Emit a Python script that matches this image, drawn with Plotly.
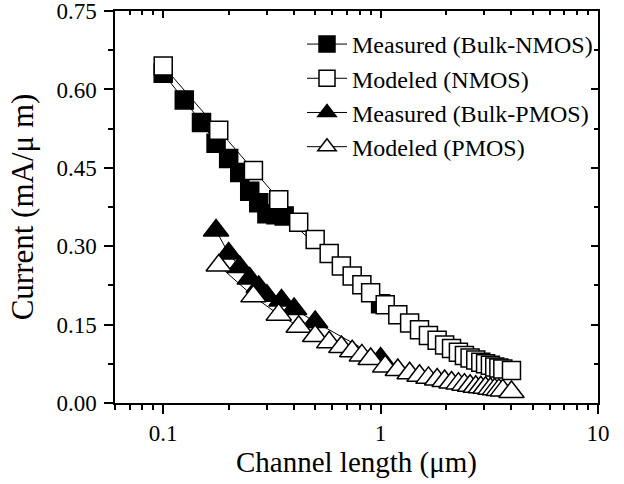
import math
import plotly.graph_objects as go

# ---- data ----
meas_nmos_x = [0.1, 0.125, 0.15, 0.175, 0.2, 0.225, 0.25, 0.275, 0.3, 0.33, 0.36, 1.0]
meas_nmos_y = [0.631, 0.580, 0.537, 0.497, 0.468, 0.441, 0.405, 0.383, 0.362, 0.360, 0.358, 0.190]

model_nmos_x = [0.1, 0.18, 0.26, 0.34, 0.42, 0.5, 0.58, 0.66, 0.74, 0.82, 0.9,
                1.05, 1.2, 1.36, 1.51, 1.66, 1.82, 1.97, 2.12, 2.28, 2.43, 2.58,
                2.74, 2.89, 3.04, 3.2, 3.35, 3.5, 3.65, 4.0]
model_nmos_y = [0.645, 0.522, 0.445, 0.389, 0.346, 0.313, 0.286, 0.262, 0.243, 0.226, 0.211,
                0.188, 0.169, 0.153, 0.140, 0.129, 0.120, 0.111, 0.104, 0.097, 0.091, 0.086,
                0.082, 0.078, 0.075, 0.072, 0.069, 0.067, 0.065, 0.062]

meas_pmos_x = [0.175, 0.2, 0.225, 0.25, 0.275, 0.3, 0.35, 0.4, 0.5, 1.0]
meas_pmos_y = [0.330, 0.286, 0.260, 0.238, 0.222, 0.205, 0.196, 0.180, 0.155, 0.085]

model_pmos_x = [0.18, 0.26, 0.34, 0.42, 0.5, 0.58, 0.66, 0.74, 0.82, 0.9,
                1.05, 1.2, 1.36, 1.51, 1.66, 1.82, 1.97, 2.12, 2.28, 2.43, 2.58,
                2.74, 2.89, 3.04, 3.2, 3.35, 3.5, 3.65, 4.0]
model_pmos_y = [0.263, 0.204, 0.169, 0.146, 0.128, 0.116, 0.107, 0.099, 0.091, 0.084,
                0.070, 0.063, 0.057, 0.052, 0.048, 0.045, 0.042, 0.039, 0.037, 0.035, 0.033,
                0.031, 0.030, 0.029, 0.027, 0.026, 0.025, 0.024, 0.021]

x_ticks = [0.1, 1, 10]
x_ticktext = ["0.1", "1", "10"]
x_minor = [0.06, 0.07, 0.08, 0.09, 0.2, 0.3, 0.4, 0.5, 0.6, 0.7, 0.8, 0.9,
           2, 3, 4, 5, 6, 7, 8, 9]
y_ticks = [0.0, 0.15, 0.30, 0.45, 0.60, 0.75]
y_ticktext = ["0.00", "0.15", "0.30", "0.45", "0.60", "0.75"]
y_minor = [0.075, 0.225, 0.375, 0.525, 0.675]

FONT = "Times New Roman, Liberation Serif, serif"
x_range = [math.log10(0.06), 1.0001]
y_range = [-0.0001, 0.7502]

fig = go.Figure()

def add(x, y, name, symbol, fill, size):
    fig.add_trace(go.Scatter(
        x=x, y=y, name=name, mode="lines+markers",
        line=dict(color="black", width=1),
        marker=dict(symbol=symbol, size=size, color=fill,
                    line=dict(color="black", width=1.5)),
    ))

add(meas_nmos_x, meas_nmos_y, "Measured (Bulk-NMOS)", "square", "black", 18)
add(model_nmos_x, model_nmos_y, "Modeled (NMOS)", "square", "white", 18)
add(meas_pmos_x, meas_pmos_y, "Measured (Bulk-PMOS)", "triangle-up", "black", 22)
add(model_pmos_x, model_pmos_y, "Modeled (PMOS)", "triangle-up", "white", 22)

# helper trace for the mirrored (inside-tick) top/right axes
fig.add_trace(go.Scatter(x=[None], y=[None], xaxis="x2", yaxis="y2",
                         showlegend=False, hoverinfo="skip"))

axis_common = dict(showline=True, linecolor="black", linewidth=1.5,
                   showgrid=False, zeroline=False, automargin=False,
                   ticklabeloverflow="allow",
                   tickfont=dict(family=FONT, size=23, color="black"))

fig.update_layout(
    width=624, height=484,
    margin=dict(l=115, r=26, t=11, b=81),
    paper_bgcolor="white", plot_bgcolor="white",
    font=dict(family=FONT, color="black"),
    showlegend=True,
    legend=dict(x=1.0, xanchor="right", y=0.972, yanchor="top",
                bgcolor="rgba(0,0,0,0)", font=dict(family=FONT, size=24),
                itemwidth=40),
    xaxis=dict(type="log", range=x_range, tickmode="array",
               tickvals=x_ticks, ticktext=x_ticktext,
               ticks="outside", ticklen=9, tickwidth=1.5, tickcolor="black",
               minor=dict(tickmode="array", tickvals=x_minor, ticks="outside",
                          ticklen=5, tickwidth=1.5, tickcolor="black"),
               title=dict(text="Channel length (μm)",
                          font=dict(family=FONT, size=29), standoff=2),
               **axis_common),
    yaxis=dict(range=y_range, tickmode="array",
               tickvals=y_ticks, ticktext=y_ticktext,
               ticks="outside", ticklen=9, tickwidth=1.5, tickcolor="black",
               ticklabelstandoff=3,
               minor=dict(tickmode="array", tickvals=y_minor, ticks="outside",
                          ticklen=5, tickwidth=1.5, tickcolor="black"),
               title=dict(text="Current (mA/μ m)",
                          font=dict(family=FONT, size=31), standoff=14),
               **axis_common),
    xaxis2=dict(type="log", range=x_range, overlaying="x", side="top",
                tickmode="array", tickvals=x_ticks, showticklabels=False,
                ticks="inside", ticklen=7, tickwidth=1.5, tickcolor="black",
                minor=dict(tickmode="array", tickvals=x_minor, ticks="inside",
                           ticklen=4, tickwidth=1.5, tickcolor="black"),
                showline=True, linecolor="black", linewidth=1.5, automargin=False,
                showgrid=False, zeroline=False),
    yaxis2=dict(range=y_range, overlaying="y", side="right",
                tickmode="array", tickvals=y_ticks, showticklabels=False,
                ticks="inside", ticklen=7, tickwidth=1.5, tickcolor="black",
                minor=dict(tickmode="array", tickvals=y_minor, ticks="inside",
                           ticklen=4, tickwidth=1.5, tickcolor="black"),
                showline=True, linecolor="black", linewidth=1.5, automargin=False,
                showgrid=False, zeroline=False),
)

fig.write_html("out.html", config={"displayModeBar": False},
               post_script="document.body.style.margin='0';document.body.style.overflow='hidden';")
